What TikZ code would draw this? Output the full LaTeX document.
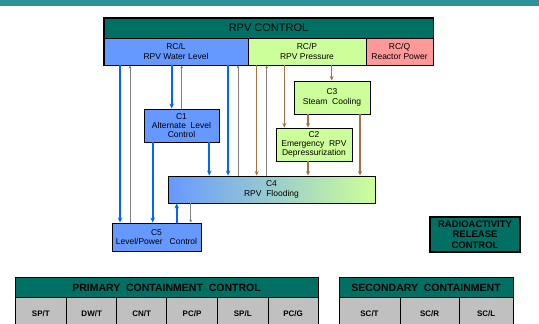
\documentclass[tikz,border=0pt]{standalone}
\usepackage{fontspec}
\setmainfont{Liberation Sans}
\usetikzlibrary{arrows.meta}
\definecolor{tealbox}{RGB}{0,112,100}
\definecolor{bandcol}{RGB}{45,145,155}
\definecolor{boxblue}{RGB}{102,153,255}
\definecolor{boxgreen}{RGB}{204,255,153}
\definecolor{boxpink}{RGB}{255,153,153}
\definecolor{cellgray}{RGB}{192,192,192}
\definecolor{arrblue}{RGB}{0,102,255}
\definecolor{arrbrown}{RGB}{165,115,65}
\definecolor{arrgray}{RGB}{128,128,128}
\begin{document}
\begin{tikzpicture}[x=1pt,y=-1pt,
  box/.style={draw=black,line width=0.9pt,inner sep=0pt,align=center,text=black,
    font=\fontsize{8.5}{9.3}\selectfont},
  titlebox/.style={draw=black,line width=0.9pt,text=black,inner sep=0pt,align=center,
    preaction={fill=tealbox}},
  cellbox/.style={draw=black,line width=0.9pt,fill=cellgray,text=black,inner sep=0pt,
    font=\fontsize{8}{8.5}\bfseries},
  barrow/.style={draw=arrblue,line width=1.8pt,-{Stealth[length=5pt,width=4.5pt]}},
  brarrow/.style={draw=arrbrown,line width=1.5pt,-{Stealth[length=4.5pt,width=4pt]}},
  garrow/.style={draw=arrgray,line width=0.9pt,-{Stealth[length=3pt,width=3pt]}}]
\useasboundingbox (0,0) rectangle (539,324);
\fill[bandcol] (0,0) rectangle (539,6);
% RPV control
\node[titlebox,minimum width=329,minimum height=20,font=\fontsize{11}{12}\selectfont] (rpv) at (268.5,28) {\color{black}RPV CONTROL};
\node[box,fill=boxblue,minimum width=144,minimum height=27] (rcl) at (176,51.5) {RC/L\\RPV Water Level};
\node[box,fill=boxgreen,minimum width=118,minimum height=27] (rcp) at (307,51.5) {RC/P\\RPV Pressure};
\node[box,fill=boxpink,minimum width=67,minimum height=27] (rcq) at (399.5,51.5) {RC/Q\\Reactor Power};
\draw[line width=1.8pt] (rpv.north west) rectangle (rcq.south east);
% boxes
\node[box,fill=boxgreen,minimum width=76,minimum height=33] (c3) at (332,97.5) {C3\\Steam\ \ Cooling};
\node[box,fill=boxblue,minimum width=75,minimum height=33] (c1) at (181.5,125.5) {C1\\Alternate\ \ Level\\Control};
\node[box,fill=boxgreen,minimum width=76,minimum height=33] (c2) at (314,144.5) {C2\\Emergency\ \ RPV\\Depressurization};
\node[box,left color=boxblue,right color=boxgreen,minimum width=207,minimum height=27] (c4) at (271.5,189.5) {C4\\RPV\ \ Flooding};
\node[box,fill=boxblue,minimum width=89,minimum height=28] (c5) at (156.5,237) {C5\\Level/Power\ \ \ Control};
\node[titlebox,line width=1.2pt,minimum width=90,minimum height=35,font=\fontsize{9.5}{10.5}\bfseries] (rad) at (475,234.5) {\color{black}RADIOACTIVITY\\\color{black}RELEASE\\\color{black}CONTROL};
% blue arrows
\draw[barrow] (120,0 |- rcl.south) -- (120,0 |- c5.north);
\draw[barrow] (171.7,0 |- rcl.south) -- (171.7,0 |- c1.north);
\draw[barrow] (228,0 |- rcl.south) -- (228,0 |- c4.north);
\draw[barrow] (152.7,0 |- c1.south) -- (152.7,0 |- c5.north);
\draw[barrow] (209.3,0 |- c1.south) -- (209.3,0 |- c4.north);
\draw[barrow] (176.7,0 |- c5.north) -- (176.7,0 |- c4.south);
% gray arrows
\draw[garrow] (130,0 |- c5.north) -- (130,0 |- rcl.south);
\draw[garrow] (181.7,0 |- c1.north) -- (181.7,0 |- rcl.south);
\draw[garrow] (238,0 |- c4.north) -- (238,0 |- rcl.south);
\draw[garrow] (266.7,0 |- c4.north) -- (266.7,0 |- rcp.south);
\draw[garrow] (190.7,0 |- c4.south) -- (190.7,0 |- c5.north);
% brown arrows
\draw[brarrow] (256.7,0 |- rcp.south) -- (256.7,0 |- c4.north);
\draw[brarrow] (284.3,0 |- rcp.south) -- (284.3,0 |- c2.north);
\draw[brarrow] (331.7,0 |- rcp.south) -- (331.7,0 |- c3.north);
\draw[brarrow] (308,0 |- c3.south) -- (308,0 |- c2.north);
\draw[brarrow] (308,0 |- c2.south) -- (308,0 |- c4.north);
\draw[brarrow] (360,0 |- c3.south) -- (360,0 |- c4.north);
% primary containment
\node[titlebox,minimum width=303,minimum height=19.5,font=\fontsize{10.5}{11}\bfseries] (pcc) at (166.5,287.5) {\color{black}PRIMARY\ \ CONTAINMENT\ \ CONTROL};
\node[cellbox,minimum width=51.7,minimum height=33] (spt) at (40.85,313.75) {SP/T};
\node[cellbox,minimum width=50,minimum height=33] (dwt) at (91.7,313.75) {DW/T};
\node[cellbox,minimum width=50,minimum height=33] (cnt) at (141.7,313.75) {CN/T};
\node[cellbox,minimum width=50.6,minimum height=33] (pcp) at (192,313.75) {PC/P};
\node[cellbox,minimum width=51,minimum height=33] (spl) at (242.8,313.75) {SP/L};
\node[cellbox,minimum width=49.7,minimum height=33] (pcg) at (293.15,313.75) {PC/G};
% secondary containment
\node[titlebox,minimum width=174,minimum height=19.5,font=\fontsize{10.5}{11}\bfseries] (scc) at (426,287.5) {\color{black}SECONDARY\ \ CONTAINMENT};
\node[cellbox,minimum width=61,minimum height=33] (sct) at (369.5,313.75) {SC/T};
\node[cellbox,minimum width=59.3,minimum height=33] (scr) at (429.65,313.75) {SC/R};
\node[cellbox,minimum width=53.7,minimum height=33] (scl) at (486.15,313.75) {SC/L};
\end{tikzpicture}
\end{document}
